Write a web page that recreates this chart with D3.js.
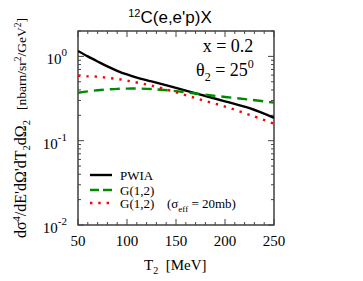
<!DOCTYPE html>
<html lang="en">
<head>
<meta charset="utf-8">
<title>12C(e,e'p)X</title>
<script src="https://d3js.org/d3.v7.min.js"></script>
<style>
  body { margin: 0; background: #fff; }
  text { font-family: "Liberation Serif", "DejaVu Serif", serif; fill: #000; }
  .title { font-family: "Liberation Sans", Arial, sans-serif; }
</style>
</head>
<body>
<script>
// values
var T = [50, 60, 70, 80, 90, 100, 110, 125, 150, 175, 200, 225, 250];
var pwia = [1.16, 1.00, 0.87, 0.76, 0.675, 0.61, 0.56, 0.505, 0.423, 0.352, 0.293, 0.243, 0.187];
var g12 = [0.37, 0.385, 0.396, 0.405, 0.412, 0.415, 0.415, 0.41, 0.387, 0.357, 0.33, 0.307, 0.283];
var g12eff = [0.59, 0.58, 0.574, 0.556, 0.54, 0.515, 0.49, 0.45, 0.375, 0.307, 0.254, 0.203, 0.159];
var xTicks = [50, 100, 150, 200, 250];
var yTicks = [0.01, 0.1, 1];
var yExp = ["-2", "-1", "0"];
var legendNames = ["PWIA", "G(1,2)", "G(1,2)"];

var W = 363, H = 281;
var pL = 78, pR = 274, pT = 31, pB = 225;

var svg = d3.select("body").append("svg").attr("width", W).attr("height", H);

var x = d3.scaleLinear().domain([50, 250]).range([pL, pR]);
var y = d3.scaleLog().domain([0.01, 2]).range([pB, pT]);

// frame
svg.append("rect").attr("x", pL).attr("y", pT)
   .attr("width", pR - pL).attr("height", pB - pT)
   .attr("fill", "none").attr("stroke", "#222").attr("stroke-width", 1.3);

// ticks (inward, all four sides)
var tg = svg.append("g").attr("stroke", "#444").attr("stroke-width", 1);
d3.range(50, 251, 10).forEach(function(v) {
  var len = (v % 50 === 0) ? 6 : 3;
  tg.append("line").attr("x1", x(v)).attr("x2", x(v)).attr("y1", pB).attr("y2", pB - len);
  tg.append("line").attr("x1", x(v)).attr("x2", x(v)).attr("y1", pT).attr("y2", pT + len);
});
[0.01, 0.1, 1].forEach(function(dec) {
  for (var k = 1; k <= 9; k++) {
    var v = dec * k;
    if (v > 2) break;
    var len = (k === 1) ? 6 : 3;
    tg.append("line").attr("x1", pL).attr("x2", pL + len).attr("y1", y(v)).attr("y2", y(v));
    tg.append("line").attr("x1", pR).attr("x2", pR - len).attr("y1", y(v)).attr("y2", y(v));
  }
});

// tick labels
svg.selectAll(".xl").data(xTicks).enter().append("text")
   .attr("x", function(d) { return x(d); }).attr("y", 246)
   .attr("text-anchor", "middle").style("font-size", "15px").text(function(d) { return d; });

yTicks.forEach(function(d, i) {
  var t = svg.append("text").attr("x", 67).attr("y", y(d) + 8)
     .attr("text-anchor", "end").style("font-size", "15px");
  t.append("tspan").text("10");
  t.append("tspan").attr("dy", -8).style("font-size", "11px").text(yExp[i]);
});

// title
var title = svg.append("text").attr("class", "title").attr("x", 170).attr("y", 23)
   .attr("text-anchor", "middle").style("font-size", "17px");
title.append("tspan").attr("dy", -6).style("font-size", "11px").text("12");
title.append("tspan").attr("dy", 6).text("C(e,e'p)X");

// annotation
svg.append("text").attr("x", 228).attr("y", 52).attr("text-anchor", "middle")
   .style("font-size", "18px").text("x = 0.2");
var th = svg.append("text").attr("x", 196).attr("y", 76).style("font-size", "18px");
th.append("tspan").text("\u03b8");
th.append("tspan").attr("dy", 5).style("font-size", "12px").text("2");
th.append("tspan").attr("dy", -5).text(" = 25");
th.append("tspan").attr("dy", -8).style("font-size", "12px").text("0");

// axis titles
var xt = svg.append("text").attr("x", 144).attr("y", 270).style("font-size", "15px");
xt.append("tspan").text("T");
xt.append("tspan").attr("dy", 4).style("font-size", "10px").text("2");
xt.append("tspan").attr("dy", -4).text("\u00a0\u00a0[MeV]");

var yt = svg.append("text").attr("transform", "translate(26,128) rotate(-90)")
   .attr("text-anchor", "middle").style("font-size", "16px");
yt.append("tspan").text("d\u03c3");
yt.append("tspan").attr("dy", -6).style("font-size", "10.5px").text("4");
yt.append("tspan").attr("dy", 6).text("/dE'd\u03a9'dT");
yt.append("tspan").attr("dy", 4).style("font-size", "10.5px").text("2");
yt.append("tspan").attr("dy", -4).text("d\u03a9");
yt.append("tspan").attr("dy", 4).style("font-size", "10.5px").text("2");
yt.append("tspan").attr("dy", -4).style("font-size", "13.5px").text("\u00a0\u00a0\u00a0[nbarn/sr");
yt.append("tspan").attr("dy", -5).style("font-size", "9.5px").text("2");
yt.append("tspan").attr("dy", 5).style("font-size", "13.5px").text("/GeV");
yt.append("tspan").attr("dy", -5).style("font-size", "9.5px").text("2");
yt.append("tspan").attr("dy", 5).style("font-size", "13.5px").text("]");

// curves
var series = [
  { vals: pwia, color: "#000", dash: null, w: 2.4 },
  { vals: g12, color: "#008a00", dash: "10,6", w: 2.4 },
  { vals: g12eff, color: "#ff0000", dash: "2.4,5.9", w: 2.4 }
];
var line = d3.line().x(function(d) { return x(d[0]); }).y(function(d) { return y(d[1]); })
   .curve(d3.curveCatmullRom.alpha(0.5));

svg.append("clipPath").attr("id", "clip").append("rect")
   .attr("x", pL).attr("y", pT).attr("width", pR - pL).attr("height", pB - pT);

series.forEach(function(s) {
  svg.append("path").datum(T.map(function(t, i) { return [t, s.vals[i]]; }))
     .attr("clip-path", "url(#clip)")
     .attr("d", line).attr("fill", "none").attr("stroke", s.color)
     .attr("stroke-width", s.w).attr("stroke-dasharray", s.dash);
});

// legend
var ly = [175, 190, 203];
series.forEach(function(s, i) {
  svg.append("line").attr("x1", 90).attr("x2", 112).attr("y1", ly[i]).attr("y2", ly[i])
     .attr("stroke", s.color).attr("stroke-width", s.w)
     .attr("stroke-dasharray", i === 1 ? "9,4" : s.dash);
  svg.append("text").attr("x", 120).attr("y", ly[i] + 4.5).style("font-size", "13px").text(legendNames[i]);
});
var se = svg.append("text").attr("x", 167).attr("y", ly[2] + 4.5).style("font-size", "13px");
se.append("tspan").text("(\u03c3");
se.append("tspan").attr("dy", 4).style("font-size", "9px").text("eff");
se.append("tspan").attr("dy", -4).text(" = 20mb)");
</script>
</body>
</html>
